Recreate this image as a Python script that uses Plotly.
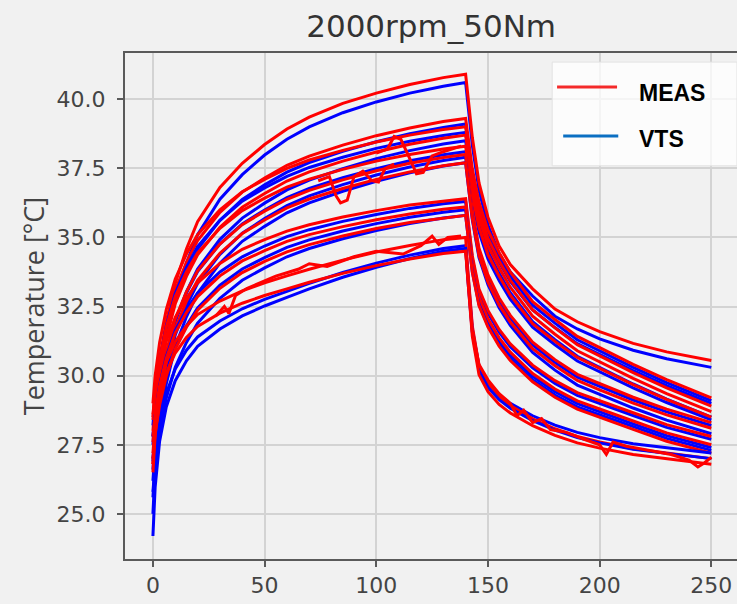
import plotly.graph_objects as go

# time axis shared by every run (heating to 140, then cool-down)
t = [0, 1, 3, 6, 10, 15, 20, 30, 40, 50, 60, 70, 85, 100, 115, 130, 140,
     141, 143, 146, 150, 155, 160, 170, 180, 190, 200, 215, 230, 250]

# measured temperatures, one row per sensor
meas_runs = [
    [28.50, 29.37, 30.61, 31.97, 33.34, 34.58, 35.57, 36.81, 37.68, 38.36, 38.92, 39.35, 39.85, 40.22, 40.53, 40.78, 40.90,
     40.18, 38.62, 36.97, 35.73, 34.69, 34.02, 33.14, 32.41, 31.95, 31.59, 31.17, 30.86, 30.55],
    [28.00, 29.13, 30.49, 31.84, 33.09, 34.10, 34.89, 35.91, 36.64, 37.15, 37.61, 37.94, 38.34, 38.68, 38.96, 39.19, 39.30,
     38.69, 37.48, 36.27, 35.26, 34.45, 33.75, 32.68, 32.03, 31.42, 31.02, 30.41, 29.86, 29.20],
    [29.00, 30.00, 31.20, 32.40, 33.50, 34.40, 35.10, 36.00, 36.65, 37.10, 37.50, 37.80, 38.15, 38.45, 38.70, 38.90, 39.00,
     38.39, 37.18, 35.97, 34.96, 34.15, 33.45, 32.38, 31.73, 31.12, 30.72, 30.11, 29.56, 28.90],
    [27.60, 28.71, 30.04, 31.37, 32.60, 33.59, 34.37, 35.37, 36.09, 36.59, 37.04, 37.37, 37.76, 38.09, 38.37, 38.59, 38.70,
     38.10, 36.90, 35.70, 34.70, 33.90, 33.20, 32.15, 31.50, 30.90, 30.50, 29.90, 29.35, 28.70],
    [28.40, 29.39, 30.58, 31.77, 32.86, 33.75, 34.44, 35.33, 35.97, 36.42, 36.82, 37.11, 37.46, 37.76, 38.00, 38.20, 38.30,
     37.71, 36.54, 35.36, 34.38, 33.60, 32.91, 31.88, 31.24, 30.66, 30.26, 29.68, 29.14, 28.50],
    [27.20, 28.28, 29.58, 30.87, 32.06, 33.03, 33.79, 34.76, 35.46, 35.95, 36.38, 36.70, 37.08, 37.41, 37.68, 37.89, 38.00,
     37.32, 35.96, 34.61, 33.64, 32.81, 32.18, 31.21, 30.58, 30.05, 29.71, 29.22, 28.79, 28.30],
    [26.80, 27.89, 29.20, 30.51, 31.71, 32.69, 33.45, 34.43, 35.14, 35.63, 36.07, 36.39, 36.77, 37.10, 37.37, 37.59, 37.70,
     37.03, 35.68, 34.34, 33.38, 32.56, 31.94, 30.98, 30.36, 29.83, 29.49, 29.01, 28.58, 28.10],
    [28.60, 29.38, 30.32, 31.25, 32.11, 32.81, 33.36, 34.06, 34.57, 34.92, 35.23, 35.46, 35.74, 35.97, 36.17, 36.32, 36.40,
     35.71, 34.34, 33.13, 32.36, 31.67, 31.15, 30.38, 29.82, 29.39, 29.09, 28.66, 28.23, 27.80],
    [27.80, 28.63, 29.63, 30.62, 31.54, 32.28, 32.86, 33.61, 34.15, 34.52, 34.86, 35.10, 35.39, 35.64, 35.85, 36.02, 36.10,
     35.41, 34.04, 32.83, 32.06, 31.37, 30.85, 30.08, 29.52, 29.09, 28.79, 28.36, 27.93, 27.50],
    [27.00, 27.88, 28.94, 29.99, 30.96, 31.75, 32.37, 33.16, 33.73, 34.13, 34.48, 34.74, 35.05, 35.32, 35.54, 35.71, 35.80,
     35.11, 33.74, 32.53, 31.76, 31.07, 30.55, 29.78, 29.22, 28.79, 28.49, 28.06, 27.63, 27.20],
    [26.80, 28.19, 29.51, 30.49, 31.23, 31.80, 32.21, 32.70, 33.07, 33.36, 33.61, 33.85, 34.18, 34.47, 34.71, 34.92, 35.00,
     33.80, 31.80, 30.36, 29.72, 29.24, 28.92, 28.44, 28.08, 27.80, 27.60, 27.36, 27.20, 27.00],
    [26.50, 27.86, 29.14, 30.10, 30.82, 31.38, 31.78, 32.26, 32.62, 32.90, 33.14, 33.38, 33.70, 33.98, 34.22, 34.42, 34.50,
     33.35, 31.42, 30.03, 29.42, 28.96, 28.65, 28.19, 27.84, 27.57, 27.38, 27.15, 26.99, 26.80],
]

# simulated (VTS) temperatures, same sensors
vts_runs = [
    [27.80, 28.70, 29.98, 31.38, 32.79, 34.07, 35.10, 36.38, 37.27, 37.98, 38.55, 39.00, 39.51, 39.90, 40.22, 40.47, 40.60,
     39.88, 38.33, 36.69, 35.45, 34.42, 33.75, 32.88, 32.15, 31.69, 31.33, 30.92, 30.61, 30.30],
    [27.50, 28.66, 30.05, 31.44, 32.72, 33.76, 34.58, 35.62, 36.37, 36.90, 37.36, 37.71, 38.11, 38.46, 38.75, 38.98, 39.10,
     38.50, 37.30, 36.10, 35.10, 34.30, 33.60, 32.55, 31.90, 31.30, 30.90, 30.30, 29.75, 29.10],
    [28.20, 29.26, 30.53, 31.80, 32.97, 33.92, 34.67, 35.62, 36.31, 36.79, 37.21, 37.53, 37.90, 38.22, 38.48, 38.69, 38.80,
     38.21, 37.04, 35.86, 34.88, 34.10, 33.41, 32.38, 31.74, 31.16, 30.76, 30.18, 29.64, 29.00],
    [26.60, 27.79, 29.22, 30.65, 31.96, 33.03, 33.86, 34.93, 35.70, 36.24, 36.72, 37.07, 37.49, 37.85, 38.14, 38.38, 38.50,
     37.90, 36.70, 35.50, 34.50, 33.70, 33.00, 31.95, 31.30, 30.70, 30.30, 29.70, 29.15, 28.50],
    [27.00, 28.11, 29.44, 30.77, 32.00, 32.99, 33.77, 34.77, 35.49, 35.99, 36.44, 36.77, 37.16, 37.49, 37.77, 37.99, 38.10,
     37.52, 36.35, 35.19, 34.22, 33.44, 32.77, 31.75, 31.12, 30.53, 30.15, 29.56, 29.03, 28.40],
    [26.20, 27.37, 28.77, 30.18, 31.47, 32.52, 33.34, 34.39, 35.15, 35.68, 36.15, 36.50, 36.91, 37.26, 37.55, 37.78, 37.90,
     37.22, 35.86, 34.51, 33.54, 32.71, 32.08, 31.11, 30.48, 29.95, 29.61, 29.12, 28.69, 28.20],
    [25.60, 26.81, 28.26, 29.71, 31.05, 32.13, 32.98, 34.07, 34.86, 35.40, 35.89, 36.25, 36.67, 37.03, 37.34, 37.58, 37.70,
     37.01, 35.64, 34.27, 33.29, 32.46, 31.82, 30.84, 30.20, 29.66, 29.32, 28.83, 28.39, 27.90],
    [27.80, 28.65, 29.67, 30.69, 31.63, 32.39, 32.99, 33.75, 34.30, 34.69, 35.03, 35.28, 35.58, 35.83, 36.05, 36.22, 36.30,
     35.61, 34.24, 33.03, 32.26, 31.57, 31.05, 30.28, 29.72, 29.29, 28.99, 28.56, 28.13, 27.70],
    [26.90, 27.81, 28.90, 29.99, 31.00, 31.81, 32.45, 33.27, 33.86, 34.27, 34.64, 34.91, 35.23, 35.50, 35.73, 35.91, 36.00,
     35.31, 33.94, 32.73, 31.96, 31.27, 30.75, 29.98, 29.42, 28.99, 28.69, 28.26, 27.83, 27.40],
    [25.80, 26.80, 28.00, 29.20, 30.30, 31.20, 31.90, 32.80, 33.45, 33.90, 34.30, 34.60, 34.95, 35.25, 35.50, 35.70, 35.80,
     35.12, 33.76, 32.57, 31.81, 31.13, 30.62, 29.85, 29.30, 28.87, 28.58, 28.15, 27.73, 27.30],
    [25.00, 26.65, 28.20, 29.37, 30.24, 30.92, 31.40, 31.98, 32.42, 32.76, 33.05, 33.34, 33.73, 34.07, 34.36, 34.60, 34.70,
     33.58, 31.70, 30.35, 29.75, 29.30, 29.00, 28.55, 28.21, 27.95, 27.76, 27.54, 27.39, 27.20],
    [24.20, 25.97, 27.63, 28.88, 29.82, 30.54, 31.06, 31.69, 32.16, 32.52, 32.83, 33.14, 33.56, 33.92, 34.24, 34.50, 34.60,
     33.46, 31.56, 30.19, 29.58, 29.13, 28.82, 28.37, 28.03, 27.76, 27.57, 27.34, 27.19, 27.00],
]

# noisy measured stretches (sensor glitches)
noise_t = [
    [74, 79, 82, 84, 87, 90, 94, 98, 101, 104, 108],
    [100, 105, 108, 111, 115, 118, 121, 125, 130, 138],
    [28, 32, 34, 37, 42, 55, 65, 70, 78, 90, 100, 112, 120, 125, 128, 132, 138],
    [140, 143, 146, 150, 155, 160, 163, 166, 170, 174, 178, 185, 193, 200, 203, 206, 212, 222, 232, 240, 244, 247, 250],
]
noise_y = [
    [37.05, 37.2, 36.5, 36.25, 36.35, 37.2, 37.4, 37.05, 37.0, 37.5, 37.65],
    [38.05, 38.2, 38.65, 38.55, 37.85, 37.3, 37.35, 37.95, 38.1, 38.3],
    [32.15, 32.5, 32.25, 32.9, 33.15, 33.6, 33.85, 34.05, 33.95, 34.3, 34.5, 34.4, 34.7, 35.05, 34.75, 35.0, 35.05],
    [34.55, 31.6, 30.4, 29.85, 29.35, 29.0, 28.55, 28.75, 28.3, 28.45, 28.05, 27.95, 27.7, 27.5, 27.15, 27.6, 27.45,
     27.3, 27.15, 26.95, 26.7, 26.85, 27.05],
]

legend_items = ["MEAS", "VTS"]
y_ticks = [25.0, 27.5, 30.0, 32.5, 35.0, 37.5, 40.0]
x_ticks = [0, 50, 100, 150, 200, 250]

RED = "#ff0000"
BLUE = "#0000ff"
BG = "#f1f1f1"
LINE_W = 3

fig = go.Figure()
for vts, meas in zip(vts_runs, meas_runs):
    fig.add_trace(go.Scatter(x=t, y=vts, mode="lines", line={"color": BLUE, "width": LINE_W},
                             showlegend=False, name="VTS"))
    fig.add_trace(go.Scatter(x=t, y=meas, mode="lines", line={"color": RED, "width": LINE_W},
                             showlegend=False, name="MEAS"))
for nx, ny in zip(noise_t, noise_y):
    fig.add_trace(go.Scatter(x=nx, y=ny, mode="lines", line={"color": RED, "width": LINE_W},
                             showlegend=False, name="MEAS"))

# hand-drawn legend box (pasted style, top right)
fig.add_shape(type="rect", xref="paper", yref="paper", x0=0.698, x1=1.0, y0=0.777, y1=0.982,
              fillcolor="rgba(255,255,255,0.75)", line={"color": "#e2e2e2", "width": 1}, layer="above")
fig.add_shape(type="line", xref="paper", yref="paper", x0=0.706, x1=0.804, y0=0.933, y1=0.933,
              line={"color": "#f42a2a", "width": 3}, layer="above")
fig.add_shape(type="line", xref="paper", yref="paper", x0=0.716, x1=0.806, y0=0.836, y1=0.836,
              line={"color": "#0b6fc2", "width": 3}, layer="above")
for label, ypos in zip(legend_items, [0.921, 0.830]):
    fig.add_annotation(text=f"<b>{label}</b>", xref="paper", yref="paper", x=0.837, y=ypos,
                       xanchor="left", yanchor="middle", showarrow=False,
                       font={"family": "Liberation Sans, Arial", "size": 23, "color": "#000000"})

axis_common = dict(
    showline=True, mirror=True, linecolor="#5a5a5a", linewidth=2,
    ticks="outside", ticklen=6, tickwidth=2, tickcolor="#5a5a5a",
    showgrid=True, gridcolor="#d3d3d3", gridwidth=2, zeroline=False, automargin=False,
    tickfont={"family": "DejaVu Sans", "size": 22, "color": "#444444"},
)

fig.update_layout(
    width=737,
    height=604,
    paper_bgcolor=BG,
    plot_bgcolor=BG,
    margin={"l": 125, "r": 0, "t": 53, "b": 45},
    title={
        "text": "2000rpm_50Nm",
        "x": 0.585,
        "xanchor": "center",
        "y": 0.957,
        "yanchor": "middle",
        "font": {"family": "DejaVu Sans", "size": 31, "color": "#333333"},
    },
    xaxis=dict(axis_common, range=[-12.5, 261.5], tickvals=x_ticks),
    yaxis=dict(
        axis_common,
        range=[23.37, 41.67],
        tickvals=y_ticks,
        tickformat=".1f",
        ticklabelstandoff=7,
        title={"text": "Temperature [°C]", "standoff": 4,
               "font": {"family": "Open Sans", "size": 27, "color": "#444444"}},
    ),
    showlegend=False,
)

fig.write_html(
    "out.html",
    config={"displayModeBar": False},
    post_script="document.body.style.margin='0';document.body.style.overflow='hidden';",
)
